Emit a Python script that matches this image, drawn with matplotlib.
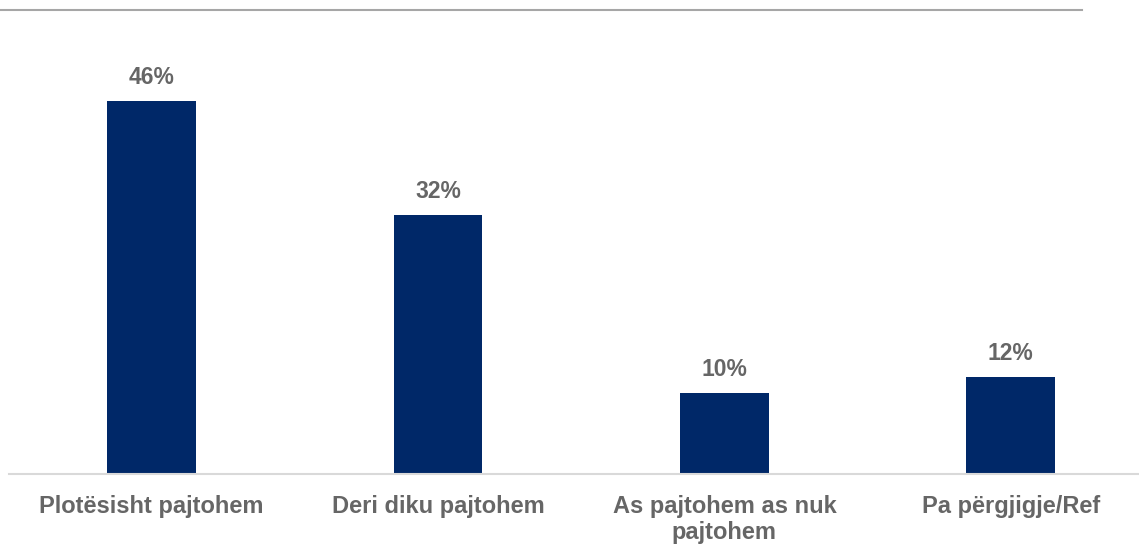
import matplotlib
matplotlib.use("Agg")
import matplotlib.pyplot as plt
from matplotlib.lines import Line2D

categories = ["Plotësisht pajtohem", "Deri diku pajtohem",
              "As pajtohem as nuk\npajtohem", "Pa përgjigje/Ref"]
values = [46, 32, 10, 12]
value_labels = ["46%", "32%", "10%", "12%"]

bar_color = "#002868"
text_color = "#666666"

plt.rcParams["font.family"] = ["Liberation Sans", "DejaVu Sans"]

W, H = 1139, 544
fig = plt.figure(figsize=(W / 100, H / 100), dpi=100)

# plot area: runs slightly past the right edge of the canvas
left_px, right_px = 8.5, 1154
bottom_px, top_px = 474, 10
ax = fig.add_axes([left_px / W, (H - bottom_px) / H,
                   (right_px - left_px) / W, (bottom_px - top_px) / H])

x = range(len(categories))
ax.bar(x, values, width=0.31, color=bar_color, zorder=2)
ax.set_xlim(-0.5, len(categories) - 0.5)
ax.set_ylim(0, (bottom_px - top_px) / 8.1)

for xi, v, lab in zip(x, values, value_labels):
    ax.annotate(lab, (xi, v), xytext=(0, 17), textcoords="offset points",
                ha="center", va="center", fontsize=16.5, fontweight="bold",
                color=text_color)

ax.set_xticks(list(x))
ax.set_xticklabels(categories, fontsize=17, fontweight="bold",
                   color=text_color, linespacing=1.15)
ax.tick_params(axis="x", length=0, pad=15)
ax.set_yticks([])
for side in ("top", "right", "left"):
    ax.spines[side].set_visible(False)
ax.spines["bottom"].set_color("#D9D9D9")
ax.spines["bottom"].set_linewidth(1.5)

# rule along the top of the figure
fig.add_artist(Line2D([0, 1082 / W], [1 - 10 / H, 1 - 10 / H],
                      color="#A6A6A6", linewidth=1.5,
                      transform=fig.transFigure))

fig.savefig("out.png", dpi=100)
